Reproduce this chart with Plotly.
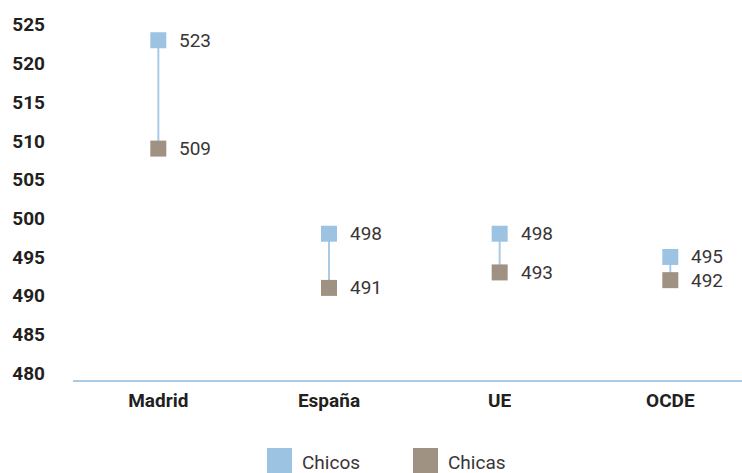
import plotly.graph_objects as go

categories = ["Madrid", "España", "UE", "OCDE"]
chicos = [523, 498, 498, 495]
chicas = [509, 491, 493, 492]
series_names = ["Chicos", "Chicas"]
y_ticks = [480, 485, 490, 495, 500, 505, 510, 515, 520, 525]

C_BLUE = "#9dc3e2"
C_BROWN = "#a09282"
LINE = "#a9cbe6"
TXT = "#231f20"
FONT = "Roboto"

W, H = 742, 473
ML, MR, MT, MB = 73, 0, 0, 93

fig = go.Figure()

# connecting segments
lx, ly = [], []
for c, a, b in zip(categories, chicos, chicas):
    lx += [c, c, None]
    ly += [a, b, None]
fig.add_trace(go.Scatter(x=lx, y=ly, mode="lines", line=dict(color=LINE, width=2),
                         showlegend=False, hoverinfo="skip"))

for name, vals, col in [(series_names[0], chicos, C_BLUE), (series_names[1], chicas, C_BROWN)]:
    fig.add_trace(go.Scatter(x=categories, y=vals, mode="markers", name=name,
                             marker=dict(symbol="square", size=16, color=col, line=dict(width=0)),
                             showlegend=False))
    for c, v in zip(categories, vals):
        fig.add_annotation(x=c, y=v, text=str(v), showarrow=False, xanchor="left",
                           yanchor="middle", xshift=19,
                           font=dict(family=FONT, size=19, color="#3a3536"))

# manual legend
pw = W - ML - MR
ph = H - MT - MB
def px_x(p):
    return (p - ML) / pw
def px_y(p):
    return (H - MB - p) / ph

legend_pos = [(267, C_BLUE), (413, C_BROWN)]
for (x0, col), name in zip(legend_pos, series_names):
    fig.add_shape(type="rect", xref="paper", yref="paper",
                  x0=px_x(x0), x1=px_x(x0 + 25), y0=px_y(473), y1=px_y(448),
                  fillcolor=col, line=dict(width=0))
    fig.add_annotation(xref="paper", yref="paper", x=px_x(x0 + 33), y=px_y(462),
                       text=name, showarrow=False, xanchor="left", yanchor="middle",
                       font=dict(family=FONT, size=19, color="#3a3536"))

fig.update_layout(
    width=W, height=H,
    margin=dict(l=ML, r=MR, t=MT, b=MB),
    plot_bgcolor="white", paper_bgcolor="white",
    showlegend=False,
    xaxis=dict(type="category", range=[-0.5, 3.42], showgrid=False, zeroline=False,
               showline=True, linecolor=LINE, linewidth=2,
               tickfont=dict(family=FONT, size=19, color=TXT, weight="bold"),
               ticks="", ticklabelstandoff=2),
    yaxis=dict(range=[479.1, 528.2], tickvals=y_ticks, showgrid=False, zeroline=False,
               showline=False, ticks="",
               tickfont=dict(family=FONT, size=19, color=TXT, weight="bold"),
               ticklabelstandoff=27),
)

fig.write_html("out.html", config={"displayModeBar": False},
               post_script="document.body.style.margin='0';document.body.style.overflow='hidden';")
